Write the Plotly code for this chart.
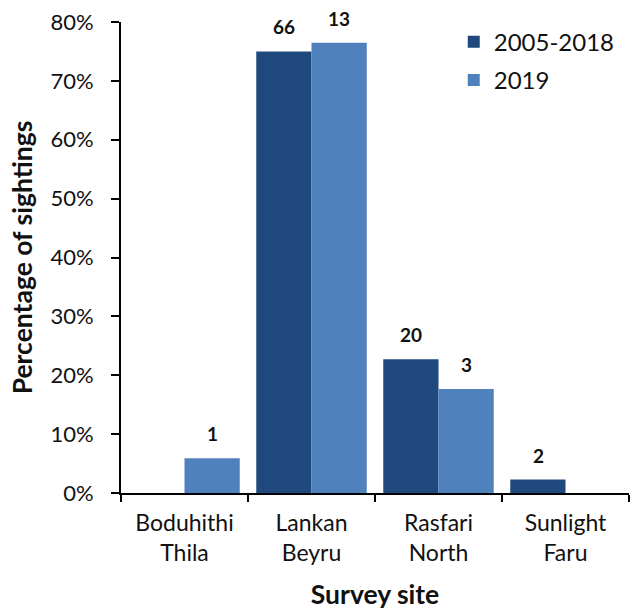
import plotly.graph_objects as go

sites = ["Boduhithi<br>Thila", "Lankan<br>Beyru", "Rasfari<br>North", "Sunlight<br>Faru"]
counts_2005_2018 = [0, 66, 20, 2]
counts_2019 = [1, 13, 3, 0]
series_names = ["2005-2018", "2019"]
colors = ["#1F497D", "#4F81BD"]

FONT = "Lato"


def shares(counts):
    total = sum(counts)
    return [c / total for c in counts]


fig = go.Figure()
all_counts = [counts_2005_2018, counts_2019]
for name, counts, color in zip(series_names, all_counts, colors):
    fig.add_trace(go.Bar(
        x=sites, y=shares(counts), name=name, legendgroup=name,
        marker=dict(color=color, line=dict(width=0)),
    ))

# count labels above each non-empty bar
offsets = [-27.5, 27.5]
for counts, dx in zip(all_counts, offsets):
    vals = shares(counts)
    for site, c, v in zip(sites, counts, vals):
        if c == 0:
            continue
        fig.add_annotation(
            x=site, y=v, xref="x", yref="y", text=f"<b>{c}</b>",
            showarrow=False, xshift=dx, yshift=11, yanchor="bottom",
            font=dict(family=FONT, size=19, color="#111111"),
        )

fig.update_layout(
    width=633, height=615,
    margin=dict(l=121, r=4, t=22, b=122),
    paper_bgcolor="white", plot_bgcolor="white",
    barmode="group", bargap=0.13, bargroupgap=0,
    font=dict(family=FONT, size=22, color="#111111"),
    legend=dict(
        x=0.655, y=1.005, xanchor="left", yanchor="top",
        font=dict(family=FONT, size=24, color="#111111"),
        bgcolor="rgba(0,0,0,0)", itemclick=False,
        tracegroupgap=4,
    ),
    xaxis=dict(
        showline=True, linecolor="black", linewidth=2,
        ticks="outside", tickson="boundaries", ticklen=7,
        tickcolor="black", tickwidth=2, ticklabelstandoff=8,
        tickfont=dict(family=FONT, size=23),
        title=dict(text="<b>Survey site</b>", font=dict(family=FONT, size=26.5),
                   standoff=21),
    ),
    yaxis=dict(
        range=[0, 0.8], dtick=0.1, tickformat=".0%",
        showline=True, linecolor="black", linewidth=2,
        ticks="outside", ticklen=8, tickcolor="black", tickwidth=2,
        ticklabelstandoff=13,
        showgrid=False, zeroline=False,
        tickfont=dict(family=FONT, size=22),
        title=dict(text="<b>Percentage of sightings</b>",
                   font=dict(family=FONT, size=26.5), standoff=10),
    ),
)

fig.write_html("out.html")
